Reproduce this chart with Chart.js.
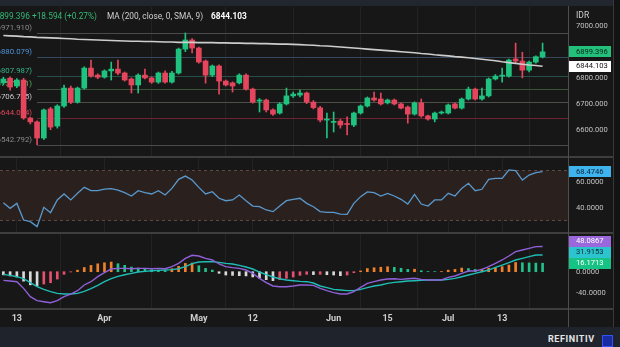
<!DOCTYPE html>
<html>
<head>
<meta charset="utf-8">
<script src="https://cdn.jsdelivr.net/npm/chart.js@4.4.1/dist/chart.umd.min.js"></script>
<style>
  body { margin: 0; width: 620px; height: 347px; overflow: hidden; position: relative; background: #171717; font-family: Roboto, sans-serif; }
  canvas { position: absolute; left: 0; }
  .abs { position: absolute; white-space: nowrap; }
  #top { left: 0; top: 0; width: 620px; height: 6px; background: #22262e; }
  #hdr span { position: absolute; top: 11px; font-size: 8.3px; line-height: 10px; }
  .sep { left: 0; width: 613px; height: 2px; background: #3e3e3e; }
  #vline { left: 568px; top: 6px; width: 1px; height: 321px; background: #4d4d4d; }
  #rstrip { left: 613px; top: 0; width: 7px; height: 347px; background: #131313; border-left: 1px solid #383838; }
  #foot { left: 0; top: 327px; width: 620px; height: 20px; background: #1f232c; }
  #brand { left: 548px; top: 334px; font-size: 9px; font-weight: bold; letter-spacing: 0.6px; color: #e6e6e6; }
  #logo { left: 602px; top: 335px; width: 9px; height: 10px; background: #1a2aa0; border: 1px solid #3550ff; }
</style>
</head>
<body>
<div id="top" class="abs"></div>
<canvas id="price" width="613" height="149" style="top:7px"></canvas>
<canvas id="rsi" width="613" height="74" style="top:158px"></canvas>
<canvas id="macd" width="613" height="92" style="top:234px"></canvas>
<div class="abs sep" style="top:156px"></div>
<div class="abs sep" style="top:232px"></div>
<div class="abs sep" style="top:308px"></div>
<div id="vline" class="abs"></div>
<div id="rstrip" class="abs"></div>
<div id="hdr">
  <span style="left:-5px;color:#35b877">6899.396</span>
  <span style="left:32px;color:#35b877">+18.594 (+0.27%)</span>
  <span style="left:107px;color:#cfcfcf">MA (200, close, 0, SMA, 9)</span>
  <span style="left:211px;color:#ffffff;font-weight:bold">6844.103</span>
</div>
<div class="abs" style="left:576px;top:10px;font-size:8.5px;color:#cfcfcf">IDR</div>
<div id="foot" class="abs"></div>
<div id="brand" class="abs">REFINITIV</div>
<div id="logo" class="abs"></div>
<script>
// x axis labels (candle index -> text)
const tickAt = [2, 15, 29, 37, 49, 57, 66, 74];
const tickText = ['13', 'Apr', 'May', '12', 'Jun', '15', 'Jul', '13'];

// daily candles
const opens = [
  6780, 6798, 6768, 6791, 6645, 6630, 6568, 6680, 6614, 6691,
  6760, 6706, 6760, 6837, 6810, 6802, 6826, 6833, 6818, 6795,
  6772, 6810, 6799, 6783, 6818, 6783, 6818, 6910, 6945, 6914,
  6864, 6810, 6845, 6787, 6780, 6780, 6810, 6756, 6710, 6714,
  6676, 6664, 6699, 6730, 6733, 6741, 6706, 6684, 6637, 6628,
  6633, 6622, 6618, 6664, 6691, 6722, 6718, 6703, 6714, 6699,
  6687, 6660, 6703, 6653, 6641, 6664, 6664, 6699, 6683, 6718,
  6756, 6718, 6730, 6795, 6806, 6806, 6872, 6864, 6829, 6860,
  6880];
const highs = [
  6802, 6803, 6797, 6798, 6648, 6634, 6680, 6686, 6696, 6772,
  6768, 6764, 6842, 6868, 6815, 6830, 6860, 6868, 6822, 6799,
  6815, 6833, 6803, 6822, 6826, 6824, 6914, 6971.91, 6950, 6918,
  6868, 6849, 6849, 6791, 6784, 6815, 6815, 6760, 6720, 6718,
  6680, 6704, 6760, 6745, 6752, 6745, 6712, 6690, 6664, 6668,
  6640, 6649, 6668, 6695, 6726, 6745, 6741, 6718, 6718, 6703,
  6691, 6707, 6718, 6656, 6668, 6672, 6699, 6703, 6722, 6764,
  6760, 6760, 6799, 6812, 6837, 6872, 6933, 6898, 6864, 6884,
  6933];
const lows = [
  6772, 6752, 6762, 6640, 6622, 6542.792, 6562, 6600, 6606, 6686,
  6700, 6702, 6756, 6802, 6796, 6798, 6791, 6812, 6787, 6741,
  6741, 6795, 6778, 6778, 6779, 6779, 6814, 6900, 6895, 6856,
  6779, 6804, 6737, 6768, 6745, 6776, 6752, 6702, 6668, 6668,
  6655, 6660, 6695, 6724, 6726, 6700, 6680, 6630, 6568, 6591,
  6606, 6580, 6612, 6660, 6687, 6710, 6695, 6699, 6695, 6680,
  6625, 6656, 6648, 6637, 6630, 6660, 6660, 6680, 6679, 6714,
  6714, 6714, 6726, 6791, 6783, 6802, 6858, 6799, 6822, 6856,
  6876];
const closes = [
  6795, 6764, 6791, 6645, 6630, 6568, 6676, 6610, 6691, 6760,
  6706, 6760, 6837, 6806, 6802, 6826, 6833, 6818, 6791, 6772,
  6810, 6799, 6783, 6818, 6783, 6818, 6910, 6945, 6914, 6860,
  6810, 6845, 6787, 6772, 6768, 6810, 6756, 6706, 6714, 6676,
  6660, 6699, 6730, 6737, 6741, 6706, 6685, 6637, 6639, 6632,
  6618, 6620, 6664, 6691, 6722, 6714, 6699, 6714, 6699, 6683,
  6660, 6703, 6653, 6641, 6664, 6667, 6695, 6683, 6718, 6756,
  6718, 6730, 6795, 6806, 6809, 6868, 6864, 6829, 6860, 6880.802,
  6899.396];

// MA(200)
const ma200 = [
  6962, 6961, 6960, 6958, 6957, 6955, 6954, 6953, 6952, 6951,
  6950, 6948, 6947, 6946, 6945, 6944, 6943, 6942, 6941, 6940,
  6940, 6939, 6939, 6938, 6937, 6937, 6936, 6936, 6936, 6935,
  6935, 6935, 6934, 6934, 6933, 6933, 6932, 6932, 6931, 6931,
  6930, 6929, 6929, 6928, 6927, 6926, 6925, 6923, 6922, 6920,
  6918, 6916, 6914, 6912, 6910, 6908, 6906, 6904, 6902, 6900,
  6898, 6896, 6893, 6891, 6888, 6886, 6884, 6881, 6879, 6877,
  6874, 6871, 6868, 6865, 6861, 6858, 6855, 6852, 6849, 6847,
  6844.103];

// fibonacci levels, drawn from the low candle
const fibStart = 5;
const fibLevels = [6971.910, 6880.079, 6807.987, 6757.351, 6706.715, 6644.064, 6542.792];
const priceTicks = [6600, 6700, 6800, 7000];

// RSI
const rsi = [
  43.9, 39.5, 43.4, 30.3, 29.0, 25.1, 40.3, 36.1, 46.1, 50.8,
  46.1, 51.3, 56.0, 53.4, 53.4, 54.7, 55.0, 53.9, 51.8, 49.2,
  53.4, 51.8, 50.8, 53.4, 50.0, 55.2, 62.3, 64.9, 61.8, 56.0,
  50.8, 52.6, 47.4, 45.5, 46.1, 50.0, 45.5, 41.3, 40.8, 38.2,
  36.9, 41.3, 45.5, 46.6, 47.4, 43.4, 40.8, 36.9, 36.3, 36.3,
  35.0, 34.8, 43.4, 48.7, 52.4, 51.8, 49.2, 51.3, 49.2, 46.6,
  42.9, 50.5, 42.9, 41.3, 46.1, 46.1, 51.3, 49.2, 55.2, 59.2,
  53.4, 54.5, 62.3, 63.1, 63.1, 69.7, 69.2, 61.8, 65.7, 67.6,
  68.4746];
const rsiTicks = [40, 60];

// MACD
const macdLine = [
  -16.4, -17.7, -19.0, -31.7, -47.5, -55.2, -57.1, -59.0, -55.2, -47.5,
  -42.5, -36.1, -25.3, -19.0, -9.5, -1.8, 5.1, 6.4, 6.4, 5.7,
  6.4, 6.4, 5.7, 6.4, 5.7, 9.6, 15.9, 25.4, 31.2, 29.9,
  25.4, 22.3, 14.7, 9.6, 7.7, 6.4, 3.2, -3.1, -12.6, -20.9,
  -27.2, -28.5, -28.5, -27.2, -25.3, -25.3, -26.0, -31.7, -36.1, -39.9,
  -42.5, -42.5, -38.0, -29.8, -22.2, -19.0, -15.8, -13.9, -13.3, -14.5,
  -13.3, -12.6, -14.5, -15.8, -15.8, -15.8, -10.7, -8.2, -3.1, 1.3,
  1.3, 4.5, 9.6, 15.9, 22.3, 29.9, 38.2, 41.3, 44.5, 47.7,
  48.0867];
const signalLine = [
  -5.0, -7.0, -9.5, -13.3, -20.9, -28.5, -33.6, -38.0, -41.2, -42.5,
  -42.5, -41.2, -37.4, -32.3, -26.0, -19.0, -13.3, -8.8, -5.7, -3.1,
  -0.6, 0.7, 1.9, 2.6, 3.2, 3.9, 5.7, 9.6, 15.3, 18.5,
  19.1, 19.1, 17.8, 15.9, 14.7, 12.1, 9.0, 5.1, -0.6, -5.7,
  -10.1, -13.3, -15.8, -17.1, -18.4, -19.0, -21.5, -27.2, -30.4, -33.6,
  -34.9, -36.1, -36.1, -33.6, -30.4, -27.2, -25.3, -22.2, -20.3, -19.0,
  -17.7, -17.1, -16.4, -15.8, -15.8, -15.8, -14.5, -12.6, -9.5, -6.3,
  -3.1, 0.0, 3.2, 8.3, 12.7, 17.2, 22.3, 25.4, 28.6, 31.8,
  31.9153];
const histogram = [
  -6.0, -8.0, -10.0, -18.0, -25.0, -27.0, -23.5, -21.0, -14.0, -5.0,
  -0.5, 3.0, 8.0, 12.0, 15.0, 17.0, 18.4, 15.2, 12.1, 8.8,
  7.0, 5.7, 3.8, 3.0, 2.0, 5.7, 10.2, 15.8, 16.5, 11.4,
  6.3, 3.2, -3.1, -6.3, -7.0, -7.5, -8.0, -10.0, -12.5, -15.2,
  -17.1, -15.2, -12.7, -10.1, -6.9, -5.0, -5.5, -5.0, -5.7, -6.3,
  -7.6, -6.4, -1.9, 1.5, 6.0, 7.5, 8.5, 9.5, 8.3, 6.5,
  4.4, 4.8, 1.9, 0.3, 0.2, 0.3, 3.0, 4.4, 7.0, 6.0,
  4.4, 5.0, 6.4, 7.6, 9.6, 12.7, 17.5, 17.0, 16.7, 16.4,
  16.1713];
const macdTicks = [-40, 0];

const UP = '#1fc27f', DOWN = '#e5465d';
const FONT = 'Roboto';

function xScale(showLabels) {
  return {
    type: 'linear', min: -0.5, max: 83.77, offset: false,
    afterBuildTicks: ax => { ax.ticks = tickAt.map(v => ({ value: v })); },
    afterFit: ax => {
      ax.height = showLabels ? 18 : 0;
      ax.paddingLeft = 0; ax.paddingRight = 0;
    },
    grid: { color: '#232323', drawTicks: false },
    border: { display: false },
    ticks: {
      display: showLabels, autoSkip: false, maxRotation: 0, padding: 5, color: '#cfcfcf',
      font: { family: FONT, size: 9, weight: 'bold' },
      callback: v => tickText[tickAt.indexOf(v)]
    }
  };
}

function yScale(min, max, ticks, digits) {
  return {
    position: 'right', min, max,
    afterBuildTicks: ax => { ax.ticks = ticks.map(v => ({ value: v })); },
    afterFit: ax => {
      ax.width = 45;
      // keep the pane edge to edge: no label padding above/below
      ax.paddingTop = 0; ax.paddingBottom = 0;
    },
    grid: { display: false, drawTicks: false },
    border: { display: false },
    ticks: { padding: 8, color: '#c2c2c2', font: { family: FONT, size: 7.6 }, callback: v => v.toFixed(digits) }
  };
}

function baseOptions(scales) {
  return {
    responsive: false, animation: false, events: [],
    layout: { padding: 0 },
    plugins: { legend: { display: false }, tooltip: { enabled: false } },
    scales
  };
}

const pts = arr => arr.map((v, i) => ({ x: i, y: v }));

// value tags on the right axis
function tagPlugin(tags) {
  return {
    id: 'tags',
    afterDraw(chart) {
      const { ctx, chartArea, scales: { y } } = chart;
      const h = 11;
      const items = tags.map(t => Object.assign({}, t, { py: y.getPixelForValue(t.value) }));
      items.sort((a, b) => b.py - a.py);
      for (let k = 1; k < items.length; k++) items[k].py = Math.min(items[k].py, items[k - 1].py - h);
      ctx.save();
      items.forEach(t => {
        ctx.fillStyle = t.bg;
        ctx.fillRect(chartArea.right + 1, Math.round(t.py - h / 2), 42, h);
        ctx.fillStyle = t.fg;
        ctx.font = '7.6px ' + FONT;
        ctx.textAlign = 'left';
        ctx.textBaseline = 'middle';
        ctx.fillText(t.text, chartArea.right + 8, Math.round(t.py) + 0.5);
      });
      ctx.restore();
    }
  };
}

// fibonacci retracement lines and their labels
const fibLineColors = ['#4a4a4a', '#34495c', '#245049', '#3d5339', '#4c5049', '#6c2432', '#4a4a4a'];
const fibTextColors = ['#8c8c8c', '#4f95da', '#36b58a', '#5cb85c', '#cacaca', '#e0455a', '#8c8c8c'];
const fibPlugin = {
  id: 'fib',
  beforeDatasetsDraw(chart) {
    const { ctx, chartArea, scales: { x, y } } = chart;
    const x0 = x.getPixelForValue(fibStart);
    ctx.save();
    ctx.font = '7.8px ' + FONT;
    ctx.textAlign = 'right';
    ctx.textBaseline = 'bottom';
    fibLevels.forEach((lv, k) => {
      const py = Math.round(y.getPixelForValue(lv)) + 0.5;
      ctx.strokeStyle = fibLineColors[k];
      ctx.lineWidth = 1;
      ctx.beginPath();
      ctx.moveTo(x0, py);
      ctx.lineTo(chartArea.right, py);
      ctx.stroke();
      ctx.fillStyle = fibTextColors[k];
      ctx.fillText('(' + lv.toFixed(3) + ')', 32, py - 2);
    });
    ctx.restore();
  }
};

// RSI 30-70 band
const bandPlugin = {
  id: 'band',
  beforeDatasetsDraw(chart) {
    const { ctx, chartArea, scales: { y } } = chart;
    const yTop = Math.round(y.getPixelForValue(70)) + 0.5;
    const yBot = Math.round(y.getPixelForValue(30)) + 0.5;
    ctx.save();
    ctx.fillStyle = '#2a211f';
    ctx.fillRect(chartArea.left, yTop, chartArea.right - chartArea.left, yBot - yTop);
    ctx.strokeStyle = '#5e4a43';
    ctx.setLineDash([3, 3]);
    ctx.lineWidth = 1;
    [yTop, yBot].forEach(py => {
      ctx.beginPath();
      ctx.moveTo(chartArea.left, py);
      ctx.lineTo(chartArea.right, py);
      ctx.stroke();
    });
    ctx.restore();
  }
};

const candleColors = opens.map((o, i) => closes[i] >= o ? UP : DOWN);
const last = arr => arr[arr.length - 1];

// price pane
new Chart(document.getElementById('price'), {
  type: 'bar',
  data: {
    datasets: [
      { type: 'line', data: pts(ma200), borderColor: '#cdcdcd', borderWidth: 1.6, pointRadius: 0, tension: 0, order: 0 },
      { data: opens.map((o, i) => ({ x: i, y: [o, closes[i]] })), backgroundColor: candleColors,
        barThickness: 5, minBarLength: 1, grouped: false, order: 1 },
      { data: lows.map((l, i) => ({ x: i, y: [l, highs[i]] })), backgroundColor: candleColors,
        barThickness: 1, grouped: false, order: 2 }
    ]
  },
  options: baseOptions({ x: xScale(false), y: yScale(6498.8, 7071.9, priceTicks, 3) }),
  plugins: [fibPlugin, tagPlugin([
    { value: last(closes), text: last(closes).toFixed(3), bg: '#22c07a', fg: '#0c2418' },
    { value: last(ma200), text: last(ma200).toFixed(3), bg: '#ffffff', fg: '#161616' }
  ])]
});

// RSI pane
new Chart(document.getElementById('rsi'), {
  type: 'line',
  data: {
    datasets: [
      { data: pts(rsi), borderColor: '#5a98cc', borderWidth: 1.3, pointRadius: 0, tension: 0 }
    ]
  },
  options: baseOptions({ x: xScale(false), y: yScale(20.87, 79.13, rsiTicks, 4) }),
  plugins: [bandPlugin, tagPlugin([
    { value: last(rsi), text: last(rsi).toFixed(4), bg: '#3eb3ee', fg: '#0d2533' }
  ])]
});

// MACD pane
const histColors = histogram.map((v, i) => {
  const prev = i > 0 ? histogram[i - 1] : v;
  if (v >= 0) return v >= prev ? '#f0812a' : '#22c08a';
  return v <= prev ? '#d9d9d9' : '#e5506e';
});

new Chart(document.getElementById('macd'), {
  type: 'bar',
  data: {
    datasets: [
      { type: 'line', data: pts(macdLine), borderColor: '#9060d8', borderWidth: 1.4, pointRadius: 0, tension: 0, order: 0 },
      { type: 'line', data: pts(signalLine), borderColor: '#1fbdb5', borderWidth: 1.4, pointRadius: 0, tension: 0, order: 1 },
      { data: pts(histogram), backgroundColor: histColors, barThickness: 2, grouped: false, order: 2 }
    ]
  },
  options: baseOptions({ x: xScale(true), y: yScale(-69.1, 71.8, macdTicks, 4) }),
  plugins: [tagPlugin([
    { value: last(macdLine), text: last(macdLine).toFixed(4), bg: '#9a68dc', fg: '#ffffff' },
    { value: last(signalLine), text: last(signalLine).toFixed(4), bg: '#2cc4cf', fg: '#0c2a2d' },
    { value: last(histogram), text: last(histogram).toFixed(4), bg: '#17c285', fg: '#ffffff' }
  ])]
});
</script>
</body>
</html>
